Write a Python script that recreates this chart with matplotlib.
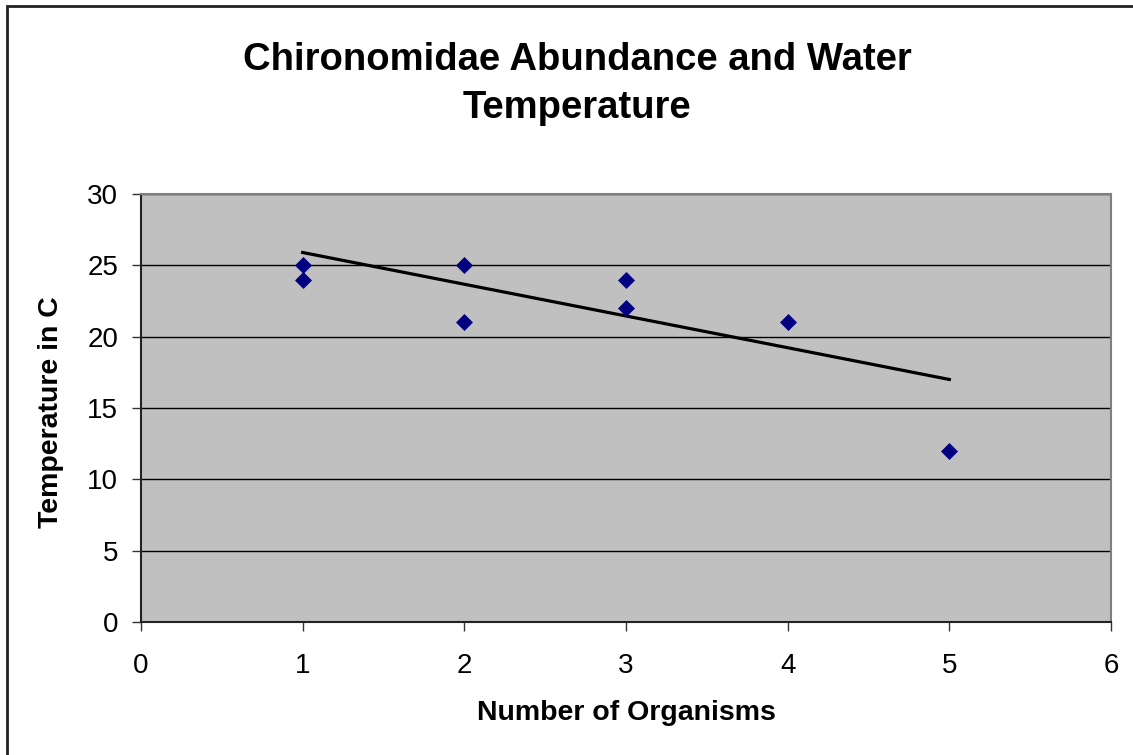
import matplotlib
matplotlib.use("Agg")

import matplotlib.pyplot as plt
from matplotlib.patches import Rectangle

plt.rcParams["font.family"] = ["Liberation Sans", "DejaVu Sans"]

# ── Data ─────────────────────────────────────────────────────────────────────
organisms   = [1, 1, 2, 2, 3, 3, 4, 5]
temperature = [25, 24, 25, 21, 24, 22, 21, 12]
trend_x     = [1, 5]
trend_y     = [25.9, 17.0]

x_ticks = [0, 1, 2, 3, 4, 5, 6]
y_ticks = [0, 5, 10, 15, 20, 25, 30]

# ── Figure ───────────────────────────────────────────────────────────────────
W, H = 1133, 755
fig = plt.figure(figsize=(W / 100, H / 100), dpi=100)

# chart-area border (runs off right and bottom edges)
fig.patches.append(Rectangle((7 / W, -0.5), 2, 1.5 - 6 / H, transform=fig.transFigure,
                             fill=False, edgecolor="#222222", linewidth=2, zorder=0))

ax = fig.add_axes([141 / W, 1 - 622 / H, (1111 - 141) / W, (622 - 194) / H])
ax.set_facecolor("#C0C0C0")

ax.scatter(organisms, temperature, marker="D", s=75, color="#000080", zorder=3, linewidths=0)
ax.plot(trend_x, trend_y, color="black", linewidth=2.3, zorder=2)

ax.set_xlim(0, 6)
ax.set_ylim(0, 30)
ax.set_xticks(x_ticks)
ax.set_yticks(y_ticks)
ax.tick_params(axis="both", labelsize=20, direction="out", length=6.5, width=1, colors="#333333",
               labelcolor="black")
ax.tick_params(axis="x", pad=16)
ax.tick_params(axis="y", pad=10)
ax.grid(axis="y", color="black", linewidth=1)
ax.set_axisbelow(True)

ax.spines["left"].set_color("#222222")
ax.spines["bottom"].set_color("#222222")
ax.spines["top"].set_color("#808080")
ax.spines["right"].set_color("#808080")
for s in ax.spines.values():
    s.set_linewidth(1.5)

fig.text(626 / W, 1 - 713 / H, "Number of Organisms", ha="center", va="center",
         fontsize=20.5, fontweight="bold")
fig.text(51 / W, 1 - 412 / H, "Temperature in C", ha="center", va="center",
         rotation=90, fontsize=20.5, fontweight="bold")

fig.text(577 / W, 1 - 84 / H, "Chironomidae Abundance and Water\nTemperature",
         ha="center", va="center", fontsize=27.5, fontweight="bold", linespacing=1.45)

fig.savefig("out.png", dpi=100)
